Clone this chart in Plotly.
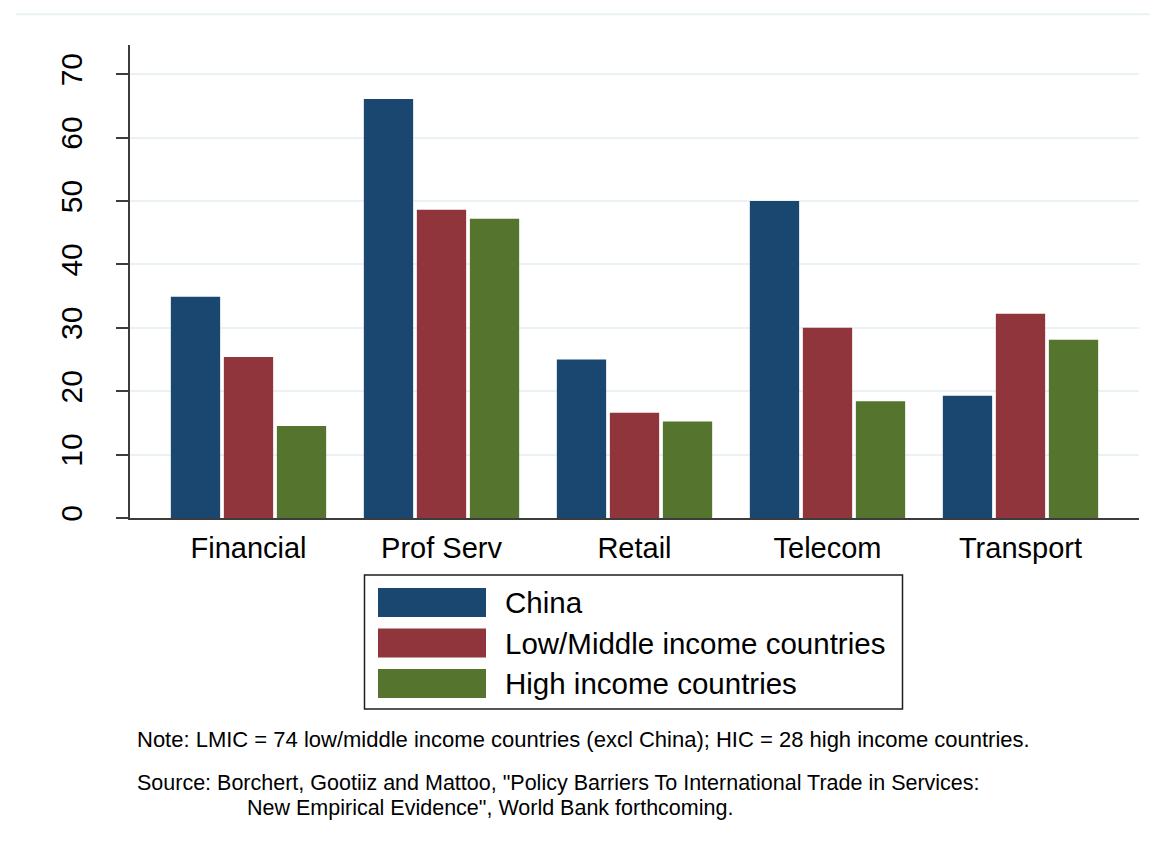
import plotly.graph_objects as go

categories = ["Financial", "Prof Serv", "Retail", "Telecom", "Transport"]
series_names = ["China", "Low/Middle income countries", "High income countries"]
china = [34.9, 66.1, 25.0, 50.0, 19.3]
lmic = [25.4, 48.6, 16.6, 30.0, 32.2]
hic = [14.5, 47.2, 15.2, 18.4, 28.1]
y_ticks = [0, 10, 20, 30, 40, 50, 60, 70]
colors = ["#1a476f", "#90353b", "#55752f"]
note_text = "Note: LMIC = 74 low/middle income countries (excl China); HIC = 28 high income countries."
source_line1 = "Source: Borchert, Gootiiz and Mattoo, \"Policy Barriers To International Trade in Services:"
source_line2 = "New Empirical Evidence\", World Bank forthcoming."

W, H = 1150, 846
L, R, T, B = 130, 11, 45, 328
PW = W - L - R
PH = H - T - B


def px(x):
    return (x - L) / PW


def py(y):
    return (H - B - y) / PH


FONT = "Liberation Sans, Arial, sans-serif"

fig = go.Figure()
for name, vals, col in zip(series_names, [china, lmic, hic], colors):
    fig.add_trace(go.Bar(x=categories, y=vals, name=name,
                         marker=dict(color=col, line=dict(width=0)),
                         showlegend=False))

fig.update_layout(
    width=W, height=H,
    margin=dict(l=L, r=R, t=T, b=B, autoexpand=False),
    paper_bgcolor="white", plot_bgcolor="white",
    barmode="group", bargap=0.176, bargroupgap=0.07,
    font=dict(family=FONT, color="black"),
)
fig.update_xaxes(
    range=[-0.614, 4.614], showgrid=False, showline=True, linecolor="#3c3c3c",
    linewidth=2, ticks="", tickfont=dict(size=29, family=FONT, color="black"),
    ticklabelstandoff=3, zeroline=False,
)
fig.update_yaxes(
    range=[0, 74.6], tickvals=y_ticks, showgrid=True, gridcolor="#eaf2f3",
    gridwidth=2, showline=True, linecolor="#3c3c3c", linewidth=2,
    ticks="outside", ticklen=12, tickwidth=2, tickcolor="#3c3c3c",
    tickangle=-90, tickfont=dict(size=30, family=FONT, color="black"),
    ticklabelstandoff=22, zeroline=False,
)

shapes = []
annotations = []
# faint top border line
shapes.append(dict(type="line", xref="paper", yref="paper",
                   x0=px(16), x1=px(1150), y0=py(14.3), y1=py(14.3),
                   line=dict(color="#eaf2f3", width=2)))
# legend box
shapes.append(dict(type="rect", xref="paper", yref="paper",
                   x0=px(364.5), x1=px(902.5), y0=py(575), y1=py(709),
                   line=dict(color="#1e1e1e", width=1.5), fillcolor="white"))
sw_tops = [588, 628.5, 669]
for name, col, top in zip(series_names, colors, sw_tops):
    shapes.append(dict(type="rect", xref="paper", yref="paper",
                       x0=px(378), x1=px(486), y0=py(top), y1=py(top + 29),
                       line=dict(width=0), fillcolor=col))
    annotations.append(dict(xref="paper", yref="paper", x=px(503), y=py(top + 14.5),
                            text=name, showarrow=False, xanchor="left", yanchor="middle",
                            font=dict(size=29.5, family=FONT, color="black")))

annotations.append(dict(xref="paper", yref="paper", x=px(135), y=py(739),
                        text=note_text, showarrow=False, xanchor="left", yanchor="middle",
                        font=dict(size=22, family=FONT, color="black")))
annotations.append(dict(xref="paper", yref="paper", x=px(135), y=py(783),
                        text=source_line1, showarrow=False, xanchor="left", yanchor="middle",
                        font=dict(size=21.5, family=FONT, color="black")))
annotations.append(dict(xref="paper", yref="paper", x=px(245), y=py(808),
                        text=source_line2, showarrow=False, xanchor="left", yanchor="middle",
                        font=dict(size=21.5, family=FONT, color="black")))

fig.update_layout(shapes=shapes, annotations=annotations)
fig.write_html("out.html", config={"displayModeBar": False},
               post_script="document.body.style.margin='0';document.body.style.padding='0';")
